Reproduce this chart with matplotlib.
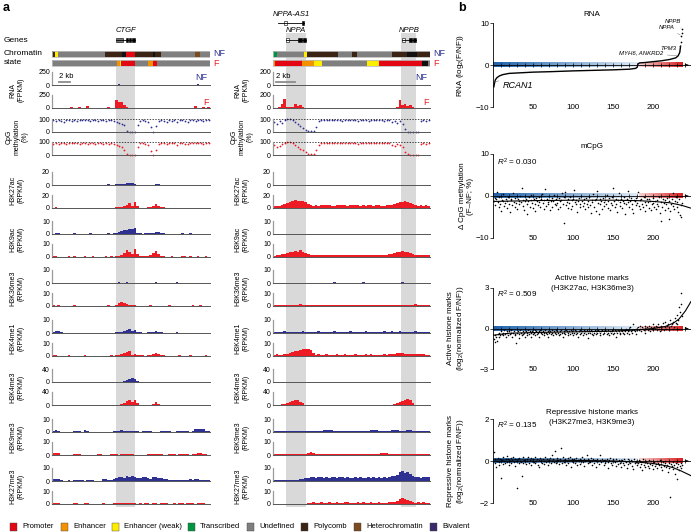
import numpy as np
import matplotlib
matplotlib.use('Agg')
import matplotlib.pyplot as plt
import matplotlib.transforms as mtrans
from matplotlib.patches import Rectangle
from matplotlib.colors import LinearSegmentedColormap

plt.rcParams['font.family'] = ['Liberation Sans', 'DejaVu Sans']
plt.rcParams['mathtext.fontset'] = 'custom'
plt.rcParams['mathtext.rm'] = 'Liberation Sans'
plt.rcParams['mathtext.it'] = 'Liberation Sans:italic'

W, H = 691, 532
NF_COL = '#2E3192'
F_COL = '#ED1C24'
BAND_COL = '#D9D9D9'

# ---------------- panel a data ----------------
len_L = 29.0   # CTGF locus (kb)
len_R = 16.5   # NPPA / NPPB locus (kb)
band_L = [(11.75, 15.2)]
band_R = [(1.37, 3.47), (13.45, 15.03)]

states = ['Promoter', 'Enhancer', 'Enhancer (weak)', 'Transcribed', 'Undefined',
          'Polycomb', 'Heterochromatin', 'Bivalent']
state_cols = ['#E30613', '#F39200', '#FFED00', '#009640', '#7F7F7F',
              '#3C2415', '#7B4A1E', '#3B2A6B']
state_color = dict(zip(states, state_cols))
state_color['dark'] = '#111111'

chrom_nf_L = [(0, 0.55, 'Polycomb'), (0.55, 1.1, 'Enhancer (weak)'), (1.1, 9.7, 'Undefined'),
              (9.7, 12.8, 'Polycomb'), (12.8, 13.6, 'dark'), (13.6, 15.2, 'Promoter'),
              (15.2, 18.5, 'Polycomb'), (18.5, 18.9, 'dark'), (18.9, 20.0, 'Polycomb'),
              (20.0, 26.2, 'Undefined'), (26.2, 27.1, 'Heterochromatin'), (27.1, 29.0, 'Undefined')]
chrom_f_L = [(0, 11.9, 'Undefined'), (11.9, 12.5, 'Enhancer'), (12.5, 12.7, 'Enhancer (weak)'),
             (12.7, 15.2, 'Promoter'), (15.2, 17.6, 'Undefined'), (17.6, 18.5, 'Enhancer'),
             (18.5, 19.3, 'Promoter'), (19.3, 29.0, 'Undefined')]
chrom_nf_R = [(0, 0.42, 'Transcribed'), (0.42, 3.26, 'Undefined'), (3.26, 3.57, 'Enhancer (weak)'),
              (3.57, 6.83, 'Polycomb'), (6.83, 8.3, 'Undefined'), (8.3, 8.83, 'Polycomb'),
              (8.83, 12.5, 'Undefined'), (12.5, 14.1, 'Polycomb'), (14.1, 15.1, 'dark'),
              (15.1, 16.5, 'Polycomb')]
chrom_f_R = [(0, 0.21, 'Enhancer'), (0.21, 3.05, 'Promoter'), (3.05, 4.31, 'Enhancer'),
             (4.31, 5.15, 'Enhancer (weak)'), (5.15, 9.88, 'Undefined'), (9.88, 11.14, 'Enhancer (weak)'),
             (11.14, 15.66, 'Promoter'), (15.66, 16.29, 'dark'), (16.29, 16.5, 'Undefined')]

# genes: name, start, end, row (px), exons (start, end, fill)
genes_L = [('CTGF', 11.75, 15.2, 40, [(11.75, 13.0, '#777777'), (13.5, 13.95, 'k'),
                                     (14.15, 14.55, 'k'), (14.75, 15.2, 'k')])]
genes_R = [('NPPA-AS1', 0.53, 3.26, 23, [(1.15, 1.45, 'white'), (3.05, 3.3, 'k')]),
           ('NPPA', 1.37, 3.47, 40, [(1.37, 1.68, 'white'), (2.63, 3.05, 'k'), (3.15, 3.47, 'k')]),
           ('NPPB', 13.56, 15.03, 40, [(13.56, 13.88, 'white'), (14.3, 14.6, 'k'), (14.71, 15.03, 'k')])]

# signal tracks, 60 bins per locus
rna_nf_L = [0, 0, 0, 0, 0, 0, 0, 0, 0, 0, 8, 0, 0, 0, 6, 0, 0, 0, 0, 0,
            0, 0, 0, 0, 0, 10, 6, 0, 5, 0, 0, 0, 0, 0, 0, 0, 0, 0, 0, 0,
            0, 0, 0, 0, 0, 0, 0, 0, 0, 0, 0, 0, 0, 0, 0, 12, 0, 0, 0, 0]
rna_f_L = [0, 0, 0, 0, 0, 0, 0, 25, 0, 0, 20, 0, 0, 35, 0, 0, 0, 0, 0, 0,
           0, 10, 0, 0, 150, 110, 120, 60, 25, 0, 0, 0, 0, 0, 0, 0, 0, 0, 0, 0,
           0, 0, 0, 0, 0, 0, 0, 0, 0, 0, 0, 0, 0, 0, 40, 0, 0, 20, 0, 15]
rna_nf_R = [0] * 60
rna_f_R = [5, 2, 10, 60, 136, 20, 15, 10, 68, 30, 45, 10, 0, 0, 0, 0, 0, 0, 0, 0,
           0, 0, 0, 0, 0, 0, 0, 0, 0, 0, 0, 0, 0, 0, 0, 0, 0, 0, 0, 0,
           0, 0, 0, 0, 0, 0, 0, 20, 130, 40, 68, 30, 40, 20, 5, 0, 0, 0, 0, 0]

cpg_nf_L = [90, 85, 92, 88, 75, 90, 93, 88, 91, 86, 90, 94, 89, 92, 87, 93, 90, 88, 94, 91,
            86, 89, 92, 85, 80, 72, 65, 55, 5, 0, 0, 2, 55, 88, 90, 86, 78, 35, 0, 45,
            85, 92, 88, 80, 91, 87, 93, 75, 89, 92, 86, 80, 90, 93, 87, 91, 94, 88, 90, 92]
cpg_f_L = [88, 92, 85, 90, 93, 87, 91, 94, 89, 92, 86, 93, 90, 88, 95, 91, 87, 93, 90, 88,
           92, 86, 90, 84, 78, 70, 60, 40, 5, 0, 0, 3, 60, 90, 92, 88, 75, 30, 0, 40,
           88, 93, 90, 85, 92, 89, 94, 80, 91, 90, 88, 84, 92, 95, 89, 90, 93, 86, 92, 90]
cpg_nf_R = [75, 60, 85, 70, 95, 100, 98, 90, 75, 60, 45, 30, 18, 8, 5, 10, 40, 85, 93, 95,
            92, 94, 90, 95, 93, 91, 88, 94, 92, 95, 90, 93, 85, 92, 95, 90, 88, 93, 91, 94,
            90, 93, 88, 92, 95, 75, 82, 70, 85, 60, 20, 3, 0, 0, 0, 2, 88, 90, 85, 92]
cpg_f_R = [80, 65, 70, 85, 95, 100, 97, 92, 80, 65, 50, 35, 20, 10, 5, 8, 35, 80, 92, 94,
           95, 90, 93, 96, 92, 94, 90, 95, 93, 91, 94, 90, 88, 95, 92, 93, 90, 94, 92, 95,
           91, 94, 89, 93, 90, 78, 70, 85, 75, 65, 25, 5, 0, 0, 0, 3, 85, 92, 88, 90]

k27ac_nf_L = [0.3, 0.5, 0.3, 0.2, 0.3, 0.2, 0.4, 0.2, 0.3, 0.2, 0.3, 0.2, 0.5, 0.2, 0.3, 0.2, 0.3, 0.2, 0.3, 0.2,
              0.4, 0.8, 0.3, 0.5, 1.0, 1.2, 1.8, 2.2, 2.8, 2.4, 2.6, 1.8, 0.5, 0.3, 0.2, 0.3, 0.2, 0.4, 0.6, 1.2,
              1.0, 0.6, 0.3, 0.2, 0.4, 0.2, 0.3, 0.2, 0.5, 0.2, 0.3, 0.2, 0.4, 0.2, 0.3, 0.2, 0.3, 0.2, 0.4, 0.2]
k27ac_f_L = [0.3, 0.8, 0.3, 0.2, 0.3, 0.2, 0.4, 0.2, 0.3, 0.2, 0.3, 0.2, 0.4, 0.2, 0.3, 0.2, 0.3, 0.2, 0.3, 0.2,
             0.4, 0.2, 0.6, 0.3, 0.8, 1.0, 1.5, 3.0, 5.0, 7.8, 2.5, 8.8, 3.0, 0.6, 0.4, 0.5, 0.8, 2.0, 3.5, 6.0,
             3.5, 2.0, 0.8, 0.3, 0.2, 0.3, 0.2, 0.3, 0.2, 0.4, 0.3, 0.2, 0.5, 0.2, 0.3, 0.2, 0.3, 0.4, 0.2, 0.3]
k27ac_nf_R = [0.3, 0.2, 0.3, 0.2, 0.3, 0.2, 0.3, 0.4, 0.3, 0.2, 0.3, 0.2, 0.2, 0.3, 0.2, 0.3, 0.2, 0.3, 0.2, 0.3,
              0.2, 0.3, 0.2, 0.4, 0.2, 0.3, 0.2, 0.3, 0.2, 0.3, 0.3, 0.2, 0.3, 0.2, 0.3, 0.2, 0.4, 0.2, 0.3, 0.2,
              0.3, 0.2, 0.3, 0.2, 0.3, 0.2, 0.3, 0.2, 0.4, 0.3, 0.2, 0.3, 0.2, 0.3, 0.2, 0.3, 0.2, 0.3, 0.2, 0.3]
k27ac_f_R = [2.8, 3.5, 3.0, 4.2, 5.6, 7.5, 9.5, 11.0, 12.0, 11.0, 10.5, 11.5, 8.5, 5.6, 4.2, 3.6, 4.2, 3.4, 4.5, 3.9,
             4.2, 4.9, 3.6, 3.4, 4.5, 3.9, 4.8, 4.2, 3.5, 4.3, 3.9, 4.6, 4.1, 3.4, 4.5, 3.8, 4.2, 4.9, 3.6, 4.1,
             4.3, 3.8, 3.5, 4.2, 4.8, 5.3, 6.3, 7.7, 9.0, 9.8, 10.5, 9.0, 7.7, 5.6, 4.5, 3.6, 4.2, 3.5, 3.9, 3.1]

k9ac_nf_L = [0.3, 0.6, 0.5, 0.3, 0.2, 0.3, 0.2, 0.3, 0.5, 0.2, 0.3, 0.2, 0.3, 0.2, 0.6, 0.2, 0.3, 0.2, 0.3, 0.2,
             0.3, 0.5, 0.2, 0.4, 0.8, 1.2, 2.0, 2.8, 3.2, 3.5, 4.0, 4.5, 1.0, 0.4, 0.3, 0.5, 0.4, 0.6, 0.8, 1.2,
             1.6, 1.0, 0.5, 0.3, 0.2, 0.3, 0.2, 0.3, 0.2, 0.4, 0.3, 0.2, 0.4, 0.2, 0.3, 0.2, 0.3, 0.2, 0.3, 0.2]
k9ac_f_L = [0.4, 0.6, 0.3, 0.2, 0.3, 0.2, 0.4, 0.3, 0.6, 0.2, 0.3, 0.2, 0.4, 0.2, 0.3, 0.8, 0.3, 0.2, 0.3, 0.2,
            0.4, 0.2, 0.6, 0.3, 0.8, 1.0, 1.5, 3.0, 5.5, 3.5, 2.0, 6.0, 2.5, 0.6, 0.4, 0.5, 0.8, 1.8, 3.0, 4.5,
            2.5, 1.0, 0.5, 0.3, 0.2, 0.6, 0.2, 0.3, 0.2, 0.4, 0.5, 0.2, 0.4, 0.2, 0.3, 0.6, 0.3, 0.2, 0.5, 0.3]
k9ac_nf_R = [0.2, 0.3, 0.2, 0.2, 0.3, 0.2, 0.2, 0.3, 0.2, 0.2, 0.3, 0.2, 0.2, 0.3, 0.2, 0.2, 0.3, 0.2, 0.2, 0.3,
             0.2, 0.2, 0.3, 0.2, 0.2, 0.3, 0.2, 0.2, 0.3, 0.2, 0.2, 0.3, 0.2, 0.2, 0.3, 0.2, 0.2, 0.3, 0.2, 0.2,
             0.3, 0.2, 0.2, 0.3, 0.2, 0.2, 0.3, 0.2, 0.3, 0.2, 0.2, 0.3, 0.2, 0.2, 0.3, 0.2, 0.2, 0.3, 0.2, 0.2]
k9ac_f_R = [1.0, 1.2, 1.5, 2.0, 2.5, 3.0, 3.5, 4.0, 4.5, 4.0, 5.0, 4.2, 3.0, 2.0, 1.6, 1.4, 1.8, 1.5, 1.7, 1.4,
            1.6, 1.9, 1.5, 1.3, 1.8, 1.5, 1.7, 1.4, 1.6, 1.8, 1.5, 1.7, 1.4, 1.6, 1.9, 1.5, 1.3, 1.7, 1.5, 1.6,
            1.8, 1.5, 1.4, 1.7, 2.0, 2.4, 3.0, 3.6, 4.2, 4.5, 4.0, 3.5, 2.8, 2.2, 1.8, 1.5, 1.7, 1.4, 1.6, 1.2]

k36_nf_L = [0.3, 0.2, 0.2, 0.3, 0.2, 0.2, 0.3, 0.2, 0.2, 0.2, 0.3, 0.2, 0.2, 0.2, 0.3, 0.2, 0.2, 0.2, 0.2, 0.2,
            0.2, 0.3, 0.2, 0.2, 0.3, 0.4, 0.2, 0.3, 0.5, 0.3, 0.2, 0.3, 0.2, 0.2, 0.2, 0.3, 0.2, 0.2, 0.2, 0.5,
            0.3, 0.2, 0.2, 0.2, 0.3, 0.2, 0.2, 0.4, 0.2, 0.2, 0.2, 0.2, 0.3, 0.2, 0.2, 0.2, 0.3, 0.2, 0.2, 0.2]
k36_f_L = [0.4, 0.3, 0.5, 0.2, 0.3, 0.2, 0.3, 0.2, 0.5, 0.2, 0.3, 0.2, 0.3, 0.2, 0.3, 0.2, 0.3, 0.2, 0.3, 0.2,
           0.3, 0.5, 0.2, 0.3, 0.6, 2.0, 2.8, 2.4, 1.5, 0.6, 0.4, 0.5, 0.3, 0.2, 0.3, 0.2, 0.3, 0.4, 0.3, 0.2,
           0.3, 0.2, 0.3, 0.2, 0.9, 0.3, 0.2, 0.3, 0.2, 0.3, 0.2, 0.3, 0.2, 1.0, 0.3, 0.2, 0.9, 0.3, 0.2, 0.3]
k36_nf_R = [0.3, 0.2, 0.3, 0.2, 0.2, 0.3, 0.2, 0.3, 0.2, 0.2, 0.3, 0.2, 0.3, 0.2, 0.2, 0.3, 0.2, 0.3, 0.2, 0.2,
            0.3, 0.2, 0.3, 0.4, 0.2, 0.3, 0.2, 0.3, 0.2, 0.2, 0.3, 0.2, 0.3, 0.2, 0.4, 0.3, 0.2, 0.3, 0.2, 0.2,
            0.3, 0.2, 0.3, 0.2, 0.2, 0.3, 0.2, 0.3, 0.2, 0.4, 0.3, 0.2, 0.3, 0.2, 0.2, 0.3, 0.2, 0.3, 0.2, 0.2]
k36_f_R = [0.6, 0.8, 0.5, 0.7, 0.9, 0.6, 0.8, 1.0, 0.7, 0.9, 1.2, 0.8, 0.6, 0.9, 0.7, 0.5, 0.8, 0.6, 0.9, 0.7,
           0.6, 0.8, 0.5, 0.7, 0.6, 0.9, 0.5, 0.7, 0.8, 0.6, 0.5, 0.7, 0.9, 0.6, 0.5, 0.8, 0.6, 0.7, 0.5, 0.9,
           0.6, 0.8, 0.5, 0.7, 0.6, 0.9, 1.1, 0.8, 0.7, 1.0, 0.8, 0.6, 0.9, 0.7, 1.2, 0.8, 0.6, 0.9, 0.7, 0.5]

k4me1_nf_L = [0.5, 1.5, 1.3, 0.5, 0.3, 0.2, 0.3, 0.2, 0.3, 0.2, 0.3, 0.2, 0.3, 0.2, 0.3, 0.2, 0.3, 0.2, 0.3, 0.2,
              0.3, 0.2, 0.3, 0.2, 0.4, 0.6, 1.0, 1.5, 2.2, 2.8, 1.2, 2.0, 0.8, 0.4, 0.3, 0.3, 0.4, 0.6, 1.0, 1.5,
              0.7, 0.4, 0.3, 0.2, 0.3, 0.2, 0.3, 0.4, 0.3, 0.2, 0.3, 0.2, 0.3, 0.2, 0.3, 0.2, 0.3, 0.2, 0.3, 0.2]
k4me1_f_L = [0.6, 0.5, 0.3, 0.2, 0.3, 0.2, 0.4, 0.2, 0.3, 0.2, 0.3, 0.2, 0.4, 0.2, 0.3, 0.2, 0.3, 0.2, 0.3, 0.2,
             0.3, 0.2, 0.4, 0.3, 0.6, 0.8, 1.2, 2.0, 3.0, 3.8, 1.0, 1.5, 0.8, 0.5, 0.4, 0.3, 0.5, 0.8, 1.8, 2.4,
             1.5, 0.8, 0.4, 0.3, 0.2, 0.3, 0.2, 0.3, 0.4, 0.3, 0.3, 0.2, 0.4, 0.2, 0.3, 0.2, 0.3, 0.2, 0.4, 0.2]
k4me1_nf_R = [0.9, 1.1, 0.8, 1.0, 1.2, 0.9, 0.8, 1.1, 0.9, 1.0, 0.8, 1.2, 1.0, 0.9, 1.1, 0.8, 1.0, 1.3, 0.9, 1.0,
              0.8, 1.1, 0.9, 1.2, 1.0, 0.8, 1.1, 0.9, 1.0, 1.4, 0.9, 1.0, 0.8, 1.1, 0.9, 1.2, 1.0, 0.8, 1.1, 0.9,
              1.0, 0.8, 1.2, 0.9, 1.1, 1.3, 1.0, 0.9, 1.2, 1.0, 0.8, 1.1, 0.9, 1.0, 1.2, 0.9, 0.8, 1.1, 0.9, 1.0]
k4me1_f_R = [1.0, 1.2, 0.9, 1.1, 1.3, 1.8, 2.5, 3.2, 3.8, 4.2, 4.8, 5.2, 5.7, 5.5, 4.5, 2.0, 1.0, 1.3, 1.1, 0.9,
             1.2, 1.0, 0.8, 1.1, 1.4, 0.9, 1.0, 1.2, 0.8, 1.1, 1.0, 1.3, 0.9, 1.1, 0.8, 1.2, 1.0, 1.4, 0.9, 1.1,
             1.1, 0.9, 1.2, 1.0, 1.4, 1.6, 1.8, 2.0, 2.2, 2.0, 1.8, 1.6, 1.5, 1.3, 1.2, 1.6, 1.4, 1.2, 1.0, 0.9]

k4me3_nf_L = [0.2, 0.2, 0.2, 0.2, 0.2, 0.2, 0.2, 0.2, 0.2, 0.2, 0.2, 0.2, 0.2, 0.2, 0.2, 0.2, 0.2, 0.2, 0.2, 0.2,
              0.2, 0.2, 0.2, 0.2, 0.3, 0.5, 1.0, 3.0, 6.0, 9.0, 11.0, 8.0, 4.0, 0.5, 0.3, 0.2, 0.2, 0.3, 0.5, 1.5,
              1.2, 0.3, 0.2, 0.2, 0.2, 0.2, 0.2, 0.2, 0.2, 0.2, 0.2, 0.2, 0.2, 0.2, 0.2, 0.2, 0.2, 0.2, 0.2, 0.2]
k4me3_f_L = [0.2, 0.2, 0.2, 0.2, 0.2, 0.2, 0.2, 0.2, 0.2, 0.2, 0.2, 0.2, 0.2, 0.2, 0.2, 0.2, 0.2, 0.2, 0.2, 0.2,
             0.2, 0.2, 0.2, 0.2, 0.5, 1.0, 3.0, 6.0, 12.0, 16.0, 10.0, 15.0, 5.0, 0.5, 0.3, 0.2, 0.2, 0.5, 2.0, 8.0,
             2.0, 0.3, 0.2, 0.2, 0.2, 0.2, 0.2, 0.2, 0.2, 0.2, 0.2, 0.2, 0.2, 0.2, 0.2, 0.2, 0.2, 0.2, 0.2, 0.2]
k4me3_nf_R = [0.4, 0.5, 0.4, 0.4, 0.5, 0.4, 0.4, 0.5, 0.4, 0.4, 0.5, 0.4, 0.4, 0.5, 0.4, 0.4, 0.5, 0.4, 0.4, 0.5,
              0.4, 0.4, 0.5, 0.4, 0.4, 0.5, 0.4, 0.4, 0.5, 0.4, 0.4, 0.5, 0.4, 0.4, 0.5, 0.4, 0.4, 0.5, 0.4, 0.4,
              0.5, 0.4, 0.4, 0.5, 0.4, 0.4, 0.5, 0.4, 0.6, 0.5, 0.4, 0.5, 0.4, 0.4, 0.5, 0.4, 0.4, 0.5, 0.4, 0.4]
k4me3_f_R = [0.3, 0.4, 0.8, 2.0, 4.0, 6.0, 9.0, 12.0, 16.0, 14.0, 10.0, 5.0, 1.0, 0.4, 0.3, 0.4, 0.3, 0.4, 0.3, 0.4,
             0.3, 0.4, 0.3, 0.4, 0.3, 0.4, 0.3, 0.4, 0.3, 0.4, 0.3, 0.4, 0.3, 0.4, 0.3, 0.4, 0.3, 0.4, 0.3, 0.4,
             0.3, 0.4, 0.3, 0.4, 0.5, 0.8, 2.0, 5.0, 9.0, 13.0, 16.0, 19.0, 14.0, 6.0, 1.0, 0.4, 0.3, 0.4, 0.3, 0.4]

k9me3_nf_L = [1.0, 1.2, 0.8, 0.3, 0.2, 0.3, 0.2, 0.3, 1.0, 1.0, 0.8, 0.3, 1.2, 0.9, 0.3, 0.2, 0.3, 0.2, 0.3, 0.2,
              0.3, 0.2, 0.3, 0.4, 0.5, 0.8, 1.2, 1.0, 0.8, 0.6, 0.5, 0.7, 0.4, 0.3, 0.9, 1.0, 0.8, 0.7, 0.3, 0.2,
              0.3, 0.8, 1.0, 0.9, 0.5, 0.3, 0.2, 0.8, 1.0, 1.1, 0.9, 0.8, 0.3, 0.4, 2.0, 2.5, 2.4, 2.0, 0.8, 0.6]
k9me3_f_L = [1.5, 1.6, 1.2, 0.3, 0.2, 0.3, 0.2, 0.3, 0.4, 0.8, 0.9, 0.3, 0.2, 0.3, 0.2, 0.3, 0.2, 0.6, 0.7, 0.3,
             0.2, 0.3, 0.5, 0.6, 0.4, 0.3, 0.5, 0.8, 0.6, 0.5, 0.4, 0.3, 0.2, 0.3, 0.2, 0.3, 0.7, 0.6, 0.5, 0.8,
             0.6, 0.4, 0.3, 0.2, 0.6, 0.7, 0.5, 0.3, 0.4, 0.5, 0.6, 0.4, 0.3, 0.5, 0.8, 1.3, 1.6, 1.0, 0.4, 0.3]
k9me3_nf_R = [0.6, 0.8, 0.7, 0.9, 0.6, 0.8, 0.7, 1.0, 0.8, 0.6, 0.9, 0.7, 0.8, 0.6, 1.0, 0.8, 0.7, 0.9, 1.1, 1.3,
              1.6, 1.8, 1.2, 0.9, 0.8, 1.0, 0.7, 0.9, 0.8, 1.0, 0.7, 0.9, 0.8, 1.1, 0.9, 0.7, 1.0, 1.2, 1.4, 1.5,
              1.1, 0.8, 0.9, 0.7, 1.0, 1.3, 1.5, 1.2, 1.0, 0.8, 0.9, 1.2, 1.4, 1.0, 0.8, 0.7, 0.9, 0.8, 1.0, 0.7]
k9me3_f_R = [0.5, 0.4, 0.6, 0.5, 0.4, 0.5, 0.6, 0.4, 0.5, 0.6, 0.5, 0.7, 0.8, 1.5, 2.0, 1.2, 0.6, 0.5, 0.4, 0.6,
             0.5, 0.4, 0.6, 0.5, 0.7, 0.5, 0.4, 0.6, 0.5, 0.4, 0.6, 0.5, 0.4, 0.6, 0.5, 0.7, 0.5, 0.4, 0.6, 0.5,
             0.7, 1.2, 1.8, 1.4, 0.6, 0.5, 0.4, 0.6, 0.5, 0.7, 0.5, 0.6, 0.4, 0.8, 1.0, 0.6, 0.5, 0.4, 0.5, 0.6]

k27me3_nf_L = [1.2, 1.8, 1.5, 0.5, 0.3, 0.2, 0.4, 0.3, 0.5, 0.6, 0.8, 0.7, 0.3, 0.5, 0.9, 0.4, 0.3, 0.2, 0.3, 1.2,
               1.8, 1.0, 0.8, 1.5, 2.2, 2.8, 3.0, 2.5, 3.5, 2.8, 3.8, 3.0, 2.5, 2.0, 3.0, 3.4, 2.2, 1.8, 2.8, 3.2,
               2.5, 2.0, 1.5, 1.2, 0.8, 0.4, 0.6, 1.0, 0.8, 0.5, 0.6, 1.0, 1.2, 0.9, 1.5, 1.3, 0.8, 0.5, 0.6, 0.8]
k27me3_f_L = [0.8, 0.9, 0.5, 0.3, 0.2, 0.3, 0.2, 0.3, 0.5, 0.6, 0.3, 0.2, 0.6, 0.5, 0.3, 0.2, 0.3, 0.2, 0.3, 0.4,
              0.3, 0.2, 0.3, 0.5, 0.6, 0.8, 0.5, 0.7, 0.6, 0.5, 0.4, 0.6, 0.3, 0.4, 0.3, 0.5, 0.4, 0.3, 0.9, 0.4,
              0.3, 0.5, 0.4, 0.6, 0.3, 0.2, 0.4, 0.3, 0.5, 0.4, 0.3, 0.6, 0.5, 0.4, 0.3, 0.8, 0.5, 0.4, 0.3, 0.2]
k27me3_nf_R = [0.6, 0.8, 0.5, 0.7, 0.6, 0.5, 0.8, 0.7, 0.6, 0.9, 1.2, 1.8, 2.5, 2.2, 2.8, 3.2, 2.6, 3.4, 2.9, 2.4,
               3.0, 2.6, 3.3, 2.8, 2.2, 2.7, 3.1, 2.5, 2.9, 2.3, 2.6, 3.0, 2.4, 2.8, 2.2, 2.5, 2.9, 2.3, 2.7, 2.4,
               2.8, 2.5, 3.0, 2.6, 3.2, 3.5, 4.0, 5.0, 7.0, 7.5, 6.5, 7.2, 5.5, 3.5, 2.8, 3.2, 2.6, 3.0, 2.7, 2.9]
k27me3_f_R = [0.3, 0.2, 0.3, 0.2, 0.2, 0.1, 0.1, 0.1, 0.1, 0.1, 0.1, 0.2, 0.3, 0.8, 1.0, 1.2, 0.9, 1.1, 1.3, 0.9,
              1.0, 1.2, 0.8, 1.1, 1.4, 1.0, 0.9, 1.2, 1.6, 1.0, 1.1, 0.9, 1.3, 1.0, 1.2, 0.8, 1.1, 1.4, 0.9, 1.0,
              1.2, 1.0, 0.8, 1.1, 1.3, 1.5, 1.8, 2.5, 3.5, 4.5, 4.0, 3.0, 2.0, 1.2, 1.0, 1.3, 1.1, 1.4, 1.0, 0.8]

track_labels = ['RNA\n(FPKM)', 'CpG\nmethylation\n(%)', 'H3K27ac\n(RPKM)', 'H3K9ac\n(RPKM)',
                'H3K36me3\n(RPKM)', 'H3K4me1\n(RPKM)', 'H3K4me3\n(RPKM)', 'H3K9me3\n(RPKM)',
                'H3K27me3\n(RPKM)']
ymax_L = [250, 100, 20, 10, 10, 10, 40, 10, 10]
ymax_R = [200, 100, 20, 10, 10, 10, 40, 10, 10]
data_L = [(rna_nf_L, rna_f_L), (cpg_nf_L, cpg_f_L), (k27ac_nf_L, k27ac_f_L), (k9ac_nf_L, k9ac_f_L),
          (k36_nf_L, k36_f_L), (k4me1_nf_L, k4me1_f_L), (k4me3_nf_L, k4me3_f_L),
          (k9me3_nf_L, k9me3_f_L), (k27me3_nf_L, k27me3_f_L)]
data_R = [(rna_nf_R, rna_f_R), (cpg_nf_R, cpg_f_R), (k27ac_nf_R, k27ac_f_R), (k9ac_nf_R, k9ac_f_R),
          (k36_nf_R, k36_f_R), (k4me1_nf_R, k4me1_f_R), (k4me3_nf_R, k4me3_f_R),
          (k9me3_nf_R, k9me3_f_R), (k27me3_nf_R, k27me3_f_R)]

# ---------------- panel b data ----------------
n_genes = 236
n_down = 180
rna_rank = [1, 2, 3, 5, 8, 12, 20, 30, 50, 70, 100, 130, 150, 170, 178, 180,
            181, 183, 190, 200, 210, 220, 228, 231, 233, 234]
rna_fc = [-5.2, -4.2, -3.5, -3.0, -2.6, -2.3, -2.0, -1.9, -1.7, -1.6, -1.4, -1.25, -1.15, -1.0, -0.8, -0.5,
          0.3, 0.5, 0.6, 0.8, 1.0, 1.3, 1.7, 2.2, 3.0, 4.5]
rna_top_rank = [235, 235, 236, 236]
rna_top_fc = [5.5, 7.0, 7.6, 8.6]
rna_genes = ['RCAN1', 'MYH6, ANKRD2', 'TPM3', 'NPPA', 'NPPB']
rna_gene_pts = [(2, -4.2), (231, 2.2), (234, 4.5), (235, 7.0), (236, 8.6)]

mcpg = [-1.2, -0.5, -2.1, -0.8, 1.0, -1.5, -2.6, -0.3, -1.8, -3.5, -0.9, -1.1, 0.4, -2.3, -1.6, -0.6, -2.9, -1.3, -0.2, -1.9,
        -3.9, -1.0, -0.7, -2.2, 0.6, -1.4, -2.7, -0.4, -1.7, -3.0, -0.8, -1.2, -2.0, -0.1, -1.5, 2.0, -2.4, -0.9, -3.3, -1.1,
        -0.6, -1.8, -4.2, -1.3, -0.3, -2.5, -1.0, 0.3, -1.6, -2.8, -0.7, -1.9, -3.6, -0.5, -1.2, -2.1, -0.2, -1.4, -2.6, -0.8,
        0.5, -1.7, -3.1, -1.0, 1.6, -2.3, -0.6, -1.5, -2.0, -0.9, -3.4, -1.1, -0.4, -2.7, -1.3, 0.2, -1.8, -2.2, -0.7, -1.6,
        -3.0, -0.5, -1.2, -2.5, -1.0, 0.8, -1.9, -6.5, -0.3, 1.0, -2.1, -1.4, -0.8, -2.9, -1.7, -0.2, -3.2, -1.0, -2.4, -0.6,
        1.5, -1.5, -2.0, -0.9, -3.7, -1.2, -0.4, -2.6, -1.8, 0.1, -1.1, -2.3, -0.7, -1.6, -3.1, -0.5, -1.9, -2.7, -1.3, -0.3,
        -2.2, -4.1, -0.9, -1.4, 0.4, -2.5, -1.0, -3.6, -0.6, 1.3, -1.7, -4.3, -2.0, -0.8, -1.2, -3.0, -0.4, -1.5, -2.4, -0.9,
        -1.8, 0.3, -2.8, -1.1, -0.5, -3.3, -1.6, -2.1, -0.2, 2.0, -1.3, -2.6, -0.7, -1.9, -3.8, -1.0, 0.6, -2.3, -1.4, -0.6,
        -2.9, -1.2, -0.3, -1.7, -4.4, -2.0, -0.8, -1.5, 1.1, -2.5, -1.1, -0.4, -3.1, -1.8, -4.0, -0.9, -1.3, -2.2, -0.5, -1.6,
        1.0, -2.4, -1.0, -3.2, -0.7, -1.9, -2.7, -0.3, -1.4, -3.6, -2.1, -0.8, -1.5, -2.9, -0.6, -1.2, -3.4, -2.0, -0.4, -1.7,
        -2.6, -1.1, -3.0, -0.9, -1.8, -2.3, -0.2, -4.1, -1.4, -6.0, -2.5, -0.7, -1.6, -3.3, -1.0, -2.0, -0.5, -2.8, -5.5, -1.3,
        -3.6, -1.9, -0.6, 0.8, -2.4, -3.1, -1.2, -0.3, -2.7, -1.5, -3.9, -0.8, -4.5, -2.2, -5.0, -1.6]
mcpg_fit_x = [0, 25, 50, 100, 150, 180, 200, 220, 235, 247]
mcpg_fit_y = [-1.3, -1.2, -1.1, -1.0, -1.0, -1.1, -1.3, -1.6, -2.2, -2.9]

active = [-0.8, -0.5, -1.0, -0.6, -0.9, -0.4, -0.3, -0.6, -0.5, -0.2, -0.4, -0.3, -0.5, -0.1, -0.4, -0.6, -0.2, -0.3, -0.5, -0.2,
          -0.4, -0.3, -0.1, -0.6, -0.3, -0.2, -0.4, -0.5, -1.1, -0.3, -0.2, -0.4, -0.7, -0.1, -0.3, -0.5, -0.2, -0.4, -0.3, -0.6,
          -0.2, -0.3, -0.5, -0.1, -0.4, -0.2, -0.3, -0.6, -0.2, -0.4, -0.3, -0.1, -0.5, -0.2, -0.4, -0.3, -0.2, -0.6, -0.1, -0.3,
          -0.4, -0.2, -0.3, -0.5, -0.1, -0.3, -0.4, -0.2, -0.6, -0.3, -0.2, -0.4, -0.1, -0.3, -0.5, -0.2, -0.3, -0.4, -0.1, -0.2,
          -0.3, -0.5, -0.2, -0.4, -0.1, -0.3, -0.6, -0.2, -0.3, -0.4, -0.1, -0.2, -0.5, -0.3, -0.2, -0.4, -0.1, -0.3, -0.2, -0.5,
          -0.3, -0.1, -0.4, -0.2, -0.3, -0.6, -0.2, -0.1, -0.4, -0.3, -0.2, -0.5, -0.1, -0.3, -0.2, -0.4, -0.1, -0.3, -0.7, -0.2,
          -0.3, -0.1, -0.4, -0.2, -0.5, -0.3, -0.1, -0.2, -0.4, -0.3, -0.1, -0.2, -0.5, -0.3, -0.2, -0.1, -0.4, -0.2, -0.3, -0.1,
          -0.2, -0.4, -0.3, -0.1, -0.5, -0.2, -0.3, -0.1, -0.2, -0.4, -0.3, -0.1, -0.2, -0.6, -0.3, -0.1, -0.2, -0.3, -0.4, -0.1,
          -0.2, -0.3, -0.1, -0.4, -0.2, 0.0, -0.3, -0.1, -0.2, -0.4, 0.1, -0.2, -0.1, -0.3, 0.3, -0.1, -0.2, 0.0, -0.4, -0.1,
          0.1, -0.1, 0.2, 0.0, -0.2, 0.1, 0.0, -0.1, 0.2, -0.3, 0.0, 0.1, -0.1, 0.2, 0.0, -0.2, 0.1, 0.0, 0.3, -0.1,
          0.1, 0.0, 0.2, -0.1, 0.1, 0.3, 0.0, -0.2, 0.1, 0.2, 0.0, 0.4, -0.1, 0.1, 0.5, 0.0, 0.2, 0.3, -0.1, 0.1,
          0.6, 0.2, 0.3, 0.0, 0.5, 0.1, 0.8, 0.4, 0.3, 1.0, 0.6, 1.6, 1.2, 1.8, 2.6, 0.9]
active_fit_x = [0, 20, 50, 100, 150, 180, 200, 215, 225, 232, 240, 247]
active_fit_y = [-0.5, -0.35, -0.3, -0.25, -0.2, -0.1, 0.0, 0.15, 0.4, 0.7, 1.3, 2.0]

repressive = [0.45, -0.1, 0.1, -0.3, 0.0, 0.15, -0.05, -0.2, 0.1, -0.8, 0.05, -0.15, 0.2, 0.0, -0.1, 0.1, 0.25, -0.05, 0.1, -0.2,
              0.0, 0.15, -0.1, 0.05, 0.2, -0.05, 0.1, -0.25, 0.0, -1.3, 0.1, -0.1, 0.15, 0.0, -0.05, -0.7, 0.2, -0.1, 0.05, 0.0,
              -0.15, 0.1, 0.0, 0.2, -0.1, 0.05, -0.2, 0.15, 0.0, 0.1, -0.05, 0.2, -0.1, 0.0, 0.1, -0.2, 0.05, -0.3, 0.15, 0.0,
              -0.1, 0.1, 0.0, -0.15, 0.2, -0.05, 0.1, 0.0, -0.2, 0.05, 0.15, -0.1, 0.0, 0.3, 0.1, -0.05, 0.5, 0.0, -0.1, 0.15,
              0.05, -0.15, 0.1, 0.0, 0.6, -0.1, 0.2, 0.05, -0.05, 0.1, -0.2, 0.0, 0.15, -0.1, 0.05, 0.2, -0.3, 0.0, 0.1, -0.05,
              0.1, -0.1, 0.0, 0.15, -0.2, 0.05, 0.0, 0.1, -0.15, 0.0, 0.2, -0.05, 0.1, -0.25, 0.0, 0.05, 0.3, -0.1, 0.1, 0.0,
              -0.05, 0.15, -0.2, 0.0, 0.1, -0.1, 0.05, 0.0, -0.3, 0.1, 0.0, -0.15, 0.05, 0.3, -0.05, 0.1, 0.0, -0.2, 0.05, -0.1,
              0.0, 0.1, -0.05, -0.35, 0.05, 0.15, -0.1, 0.0, -0.2, 0.1, 0.0, -0.05, -0.25, 0.1, 0.0, -0.15, 0.05, -0.1, 0.0, -0.3,
              0.05, -0.1, 0.1, -0.2, 0.0, -0.05, -0.35, 0.1, -0.15, 0.0, -0.1, 0.05, -0.25, 0.0, -0.4, 0.1, -0.1, -0.05, 0.0, -0.2,
              -0.1, 0.05, -0.3, 0.0, -0.15, -0.45, 0.1, -0.2, -0.05, -0.3, 0.0, -0.1, -0.25, 0.05, -0.35, -0.15, 0.0, -0.2, -0.1, -0.4,
              -0.05, -0.25, -0.15, 0.0, -0.35, -0.1, -0.2, 0.05, -0.3, -0.15, -0.45, -0.05, -0.25, -0.1, 0.0, -0.3, -0.2, -0.5, -0.1, -0.35,
              -1.7, -0.15, -0.25, -0.05, -0.4, -0.2, -0.6, -0.1, -0.85, -0.3, -0.15, -0.45, -0.25, -0.35, -0.1, -0.2]
repressive_fit_x = [0, 50, 100, 150, 180, 200, 215, 225, 235, 247]
repressive_fit_y = [0.05, 0.05, 0.03, 0.0, -0.05, -0.12, -0.22, -0.32, -0.48, -0.7]

legend_sq_x = [10, 61, 112, 188, 247, 301, 354, 430]


def box(x0, y0, x1, y1):
    return [x0 / W, 1 - y1 / H, (x1 - x0) / W, (y1 - y0) / H]


fig = plt.figure(figsize=(W / 100, H / 100), dpi=100)


def ftext(x, y, s, **kw):
    fig.text(x / W, 1 - y / H, s, **kw)


# ---------------- panel a ----------------
ftext(3, 8, 'a', fontsize=9, fontweight='bold', va='center')
ftext(4, 41, 'Genes', fontsize=6, va='center')
ftext(4, 58, 'Chromatin\nstate', fontsize=6, va='center', linespacing=1.35)

track_tops = [72, 119, 172, 221, 270, 320, 369, 419, 468]
loci = [dict(x0=52, x1=210, L=len_L, bands=band_L, band_top=67, genes=genes_L,
             chrom=(chrom_nf_L, chrom_f_L), data=data_L, ymax=ymax_L, lab_x=17, sb=1.3),
        dict(x0=273, x1=430, L=len_R, bands=band_R, band_top=33, genes=genes_R,
             chrom=(chrom_nf_R, chrom_f_R), data=data_R, ymax=ymax_R, lab_x=242, sb=0.32)]

for lc in loci:
    x0, x1, L = lc['x0'], lc['x1'], lc['L']
    # grey highlight band behind the tracks
    bg = fig.add_axes(box(x0, lc['band_top'], x1, 507), zorder=-1)
    bg.set_xlim(0, L)
    bg.axis('off')
    for s, e in lc['bands']:
        bg.axvspan(s, e, color=BAND_COL, lw=0)

    # genes
    gax = fig.add_axes(box(x0, 3, x1, 48))
    gax.set_xlim(0, L)
    gax.set_ylim(48, 3)
    gax.axis('off')
    for name, s, e, row, exons in lc['genes']:
        gax.plot([s, e], [row, row], color='k', lw=0.6)
        for es, ee, fc in exons:
            gax.add_patch(Rectangle((es, row - 2), ee - es, 4, fc=fc, ec='k', lw=0.4))
        gax.text((s + e) / 2, row - 9, name, fontsize=5.5, style='italic', ha='center', va='center')

    # chromatin states
    cax = fig.add_axes(box(x0, 50, x1, 67))
    cax.set_xlim(0, L)
    cax.set_ylim(67, 50)
    cax.axis('off')
    for segs, yb in zip(lc['chrom'], [51, 60]):
        for s, e, st in segs:
            cax.broken_barh([(s, e - s)], (yb, 6), facecolors=state_color[st], lw=0)
        cax.add_patch(Rectangle((0, yb), L, 6, fill=False, ec='#BBBBBB', lw=0.6))
    ftext(x1 + 3, 54, 'NF', color=NF_COL, fontsize=6.5, va='center')
    ftext(x1 + 3, 63, 'F', color=F_COL, fontsize=6.5, va='center')

    # signal tracks
    for i, (pair, ymax) in enumerate(zip(lc['data'], lc['ymax'])):
        top0 = track_tops[i]
        ftext(lc['lab_x'], top0 + 18, track_labels[i], rotation=90, ha='center', va='center',
              fontsize=5, linespacing=1.15)
        for j, (vals, col) in enumerate(zip(pair, [NF_COL, F_COL])):
            top = top0 + 23 * j
            ax = fig.add_axes(box(x0, top, x1, top + 13))
            ax.set_facecolor('none')
            edges = np.linspace(0, L, len(vals) + 1)
            if i == 1:
                xc = (edges[:-1] + edges[1:]) / 2
                ax.plot(xc, vals, 'o', ms=1.3, mew=0, color=col, clip_on=False)
                ax.axhline(100, color='k', lw=0.5, ls=(0, (2, 2)))
            else:
                ax.stairs(vals, edges, fill=True, color=col, lw=0)
            ax.set_xlim(0, L)
            ax.set_ylim(0, ymax)
            ax.set_xticks([])
            ax.set_yticks([0, ymax])
            ax.tick_params(axis='y', length=0, pad=1.5, labelsize=5)
            for sp in ['top', 'right']:
                ax.spines[sp].set_visible(False)
            ax.spines['left'].set_color('#9A9A9A')
            ax.spines['left'].set_linewidth(0.9)
            ax.spines['left'].set_bounds(0, ymax)
            ax.spines['bottom'].set_color('#555555')
            ax.spines['bottom'].set_linewidth(0.7)
            if i == 0:
                tr = mtrans.blended_transform_factory(ax.transData, ax.transAxes)
                if j == 0:
                    ax.plot([lc['sb'], lc['sb'] + 2], [0.2, 0.2], transform=tr, color='#8C8C8C', lw=1.3)
                    ax.text(lc['sb'], 0.62, '2 kb', transform=tr, fontsize=5.5, va='center')
                    ax.text(0.985, 0.55, 'NF', transform=ax.transAxes, ha='right', va='center',
                            color=NF_COL, fontsize=6.5)
                else:
                    ax.text(0.995, 0.45, 'F', transform=ax.transAxes, ha='right', va='center',
                            color=F_COL, fontsize=6.5)

# legend
for name, col, sx in zip(states, state_cols, legend_sq_x):
    fig.patches.append(Rectangle((sx / W, 1 - 531 / H), 7 / W, 8 / H, transform=fig.transFigure,
                                 fc=col, ec='#444444', lw=0.3))
    ftext(sx + 12, 527, name, fontsize=5.5, va='center')

# ---------------- panel b ----------------
ftext(458, 8, 'b', fontsize=9, fontweight='bold', va='center')
rank = np.arange(1, n_genes + 1)
blue_cmap = LinearSegmentedColormap.from_list('bl', ['#1F63AD', '#E1ECF7'])
red_cmap = LinearSegmentedColormap.from_list('rd', ['#F7D5D5', '#D71E1E'])
grad = np.linspace(0, 1, 256)[None, :]

panels = [
    dict(top=23, bot=107, lim=10, titles=[('RNA', 14)], ylabel='RNA (log$_2$(F/NF))', lab=-0.135,
         vals=None, r2=None),
    dict(top=154, bot=238, lim=10, titles=[('mCpG', 146)], ylabel='Δ CpG methylation\n(F–NF; %)',
         lab=-0.095, vals=mcpg, fit=(mcpg_fit_x, mcpg_fit_y), r2=('0.030', 162)),
    dict(top=288, bot=369, lim=3, titles=[('Active histone marks', 278), ('(H3K27ac, H3K36me3)', 289)],
         ylabel='Active histone marks\n(log$_2$(normalized F/NF))', lab=-0.135,
         vals=active, fit=(active_fit_x, active_fit_y), r2=('0.509', 294)),
    dict(top=419, bot=503, lim=2, titles=[('Repressive histone marks', 412), ('(H3K27me3, H3K9me3)', 423)],
         ylabel='Repressive histone marks\n(log$_2$(normalized F/NF))', lab=-0.135,
         vals=repressive, fit=(repressive_fit_x, repressive_fit_y), r2=('0.135', 425)),
]

for p in panels:
    ax = fig.add_axes(box(493, p['top'], 691, p['bot']))
    ax.set_facecolor('none')
    lim = p['lim']
    hh = 2.4 * 2 * lim / (p['bot'] - p['top'])
    ax.imshow(grad, cmap=blue_cmap, extent=[0, n_down, -hh, hh], aspect='auto', zorder=1)
    ax.imshow(grad, cmap=red_cmap, extent=[n_down + 2, n_genes, -hh, hh], aspect='auto', zorder=1)
    ax.set_xlim(0, 247)
    ax.set_ylim(-lim, lim)

    # zero line with small ticks every 10 genes
    ax.axhline(0, color='k', lw=0.6, zorder=2)
    ax.plot(np.arange(10, 241, 10), np.zeros(24), '|', color='k', ms=2.6, mew=0.5, zorder=2)
    ax.annotate('', xy=(1.0, 0.5), xytext=(0.97, 0.5), xycoords='axes fraction',
                arrowprops=dict(arrowstyle='-|>', lw=0.5, color='k', mutation_scale=4))

    if p['vals'] is None:
        ax.plot(rna_rank, rna_fc, color='k', lw=1.0, zorder=3)
        ax.scatter(rna_top_rank, rna_top_fc, s=1.5, color='k', lw=0, zorder=3)
        tpos = [(12, -5.0), (185, 2.8), (219, 3.9), (217, 8.9), (225, 10.3)]
        for k, (g, (gx, gy), (tx, ty)) in enumerate(zip(rna_genes, rna_gene_pts, tpos)):
            if k == 0:
                ax.annotate(g, xy=(gx, gy), xytext=(tx, ty), fontsize=6.5, style='italic',
                            ha='left', va='center', zorder=4,
                            arrowprops=dict(arrowstyle='-', lw=0.4, color='#777777',
                                            connectionstyle='arc3,rad=0.4', shrinkA=1, shrinkB=0))
            else:
                ax.annotate(g, xy=(gx, gy), xytext=(tx, ty), fontsize=4.3, style='italic',
                            ha='center', va='center', zorder=4,
                            arrowprops=dict(arrowstyle='-', lw=0.4, ls=(0, (1, 1)), color='#555555',
                                            shrinkA=1, shrinkB=1))
    else:
        ax.scatter(rank, p['vals'], s=1.3, color='k', lw=0, zorder=3)
        ax.plot(p['fit'][0], p['fit'][1], color='k', lw=0.8, zorder=3)
        ftext(497, p['r2'][1], '$R^2$ = ' + p['r2'][0], fontsize=5.8, va='center')

    for t, ty in p['titles']:
        ftext(592, ty, t, fontsize=5.8, ha='center', va='center')

    ax.set_xticks([50, 100, 150, 200])
    ax.tick_params(axis='x', length=0, pad=-2, labelsize=5.8)
    ax.set_yticks([-lim, 0, lim])
    ax.tick_params(axis='y', length=2, width=0.5, pad=1, labelsize=5.8)
    for sp in ['top', 'right', 'bottom']:
        ax.spines[sp].set_visible(False)
    ax.spines['left'].set_bounds(-lim, lim)
    ax.spines['left'].set_linewidth(0.6)
    ax.set_ylabel(p['ylabel'], fontsize=5.8, linespacing=1.25)
    ax.yaxis.set_label_coords(p['lab'], 0.5)

fig.savefig('out.png', dpi=100)
